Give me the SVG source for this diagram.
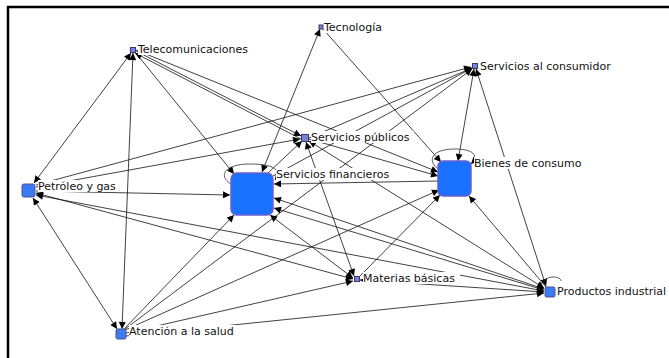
<svg xmlns="http://www.w3.org/2000/svg" width="669" height="358" viewBox="0 0 669 358">
<style>
.e{fill:none;stroke:#111;stroke-width:0.8}
.lp{fill:none;stroke:#333;stroke-width:0.8}
.t{font-family:"DejaVu Sans",sans-serif;font-size:11px;fill:#111}
.bg{fill:#fff}
.big{fill:#1a70ff;stroke:#6a5fd0;stroke-width:1.5}
.mid{fill:#3c7cf0;stroke:#50509a;stroke-width:1}
.sm{fill:#7a82d8;stroke:#333a70;stroke-width:1}
</style>
<defs>
<marker id="a" viewBox="0 0 10 10" refX="10" refY="5" markerWidth="8" markerHeight="7" markerUnits="userSpaceOnUse" orient="auto-start-reverse">
<path d="M0,0 L10,5 L0,10 z" fill="#000"/>
</marker>
</defs>
<rect x="0" y="0" width="669" height="358" fill="#fff"/>
<path d="M8,358 V7 H669" fill="none" stroke="#000" stroke-width="2.5"/>
<g id="connectors">
<line class="e" x1="34" y1="183" x2="131" y2="53" marker-start="url(#a)" marker-end="url(#a)"/>
<line class="e" x1="33" y1="198" x2="117" y2="329" marker-start="url(#a)" marker-end="url(#a)"/>
<line class="e" x1="36" y1="191" x2="230" y2="195" marker-end="url(#a)"/>
<line class="e" x1="36" y1="187" x2="300" y2="139" marker-end="url(#a)"/>
<line class="e" x1="36" y1="185" x2="471" y2="67" marker-end="url(#a)"/>
<line class="e" x1="353" y1="279" x2="36" y2="193" marker-start="url(#a)" marker-end="url(#a)"/>
<line class="e" x1="544" y1="291" x2="36" y2="195" marker-start="url(#a)" marker-end="url(#a)"/>
<line class="e" x1="133" y1="53" x2="122" y2="329" marker-start="url(#a)" marker-end="url(#a)"/>
<line class="e" x1="135" y1="52" x2="234" y2="174" marker-end="url(#a)"/>
<line class="e" x1="136" y1="51" x2="301" y2="136" marker-end="url(#a)"/>
<line class="e" x1="135" y1="53" x2="301" y2="139" marker-start="url(#a)"/>
<line class="e" x1="136" y1="50" x2="438" y2="172" marker-end="url(#a)"/>
<line class="e" x1="320" y1="29" x2="262" y2="172" marker-start="url(#a)" marker-end="url(#a)"/>
<line class="e" x1="323" y1="29" x2="441" y2="162" marker-end="url(#a)"/>
<line class="e" x1="474" y1="69" x2="458" y2="161" marker-start="url(#a)" marker-end="url(#a)"/>
<line class="e" x1="476" y1="69" x2="546" y2="286" marker-start="url(#a)" marker-end="url(#a)"/>
<line class="e" x1="273" y1="176" x2="472" y2="68" marker-end="url(#a)"/>
<line class="e" x1="309" y1="138" x2="472" y2="68" marker-end="url(#a)"/>
<line class="e" x1="268" y1="173" x2="302" y2="141" marker-end="url(#a)"/>
<line class="e" x1="306" y1="142" x2="354" y2="276" marker-start="url(#a)" marker-end="url(#a)"/>
<line class="e" x1="309" y1="139" x2="438" y2="176" marker-end="url(#a)"/>
<line class="e" x1="438" y1="181" x2="274" y2="184" marker-end="url(#a)"/>
<line class="e" x1="124" y1="329" x2="234" y2="215" marker-end="url(#a)"/>
<line class="e" x1="125" y1="330" x2="439" y2="190" marker-end="url(#a)"/>
<line class="e" x1="125" y1="329" x2="472" y2="69" marker-end="url(#a)"/>
<line class="e" x1="126" y1="333" x2="353" y2="281" marker-end="url(#a)"/>
<line class="e" x1="126" y1="336" x2="544" y2="293" marker-end="url(#a)"/>
<line class="e" x1="270" y1="215" x2="353" y2="278" marker-start="url(#a)" marker-end="url(#a)"/>
<line class="e" x1="360" y1="276" x2="440" y2="195" marker-end="url(#a)"/>
<line class="e" x1="360" y1="280" x2="544" y2="292" marker-start="url(#a)" marker-end="url(#a)"/>
<line class="e" x1="544" y1="289" x2="274" y2="198" marker-start="url(#a)" marker-end="url(#a)"/>
<line class="e" x1="544" y1="290" x2="274" y2="208" marker-end="url(#a)"/>
<line class="e" x1="546" y1="287" x2="469" y2="196" marker-end="url(#a)"/>
<line class="e" x1="544" y1="288" x2="309" y2="141" marker-start="url(#a)" marker-end="url(#a)"/>
<path class="lp" d="M231,184 C218,176 224,164 250,164 C274,164 282,170 275,180" marker-end="url(#a)"/>
<path class="lp" d="M439,170 C426,160 432,149 455,149 C474,149 479,156 471,164" marker-end="url(#a)"/>
<path class="lp" d="M541,285 C543,279 549,277 554,277 C558,277 561,279 561,281"/>
</g>
<g id="n-tel"><rect class="sm" x="130.5" y="47.5" width="5" height="5"/><rect class="bg" x="138" y="43" width="113" height="12"/><text class="t" x="138" y="53">Telecomunicaciones</text></g>
<g id="n-tec"><rect class="sm" x="319" y="25" width="4" height="4"/><rect class="bg" x="324" y="21" width="60" height="12"/><text class="t" x="324" y="31">Tecnología</text></g>
<g id="n-sac"><rect class="sm" x="472.5" y="63.5" width="5" height="5"/><rect class="bg" x="480" y="60" width="136" height="12"/><text class="t" x="480" y="70">Servicios al consumidor</text></g>
<g id="n-sp"><rect class="sm" x="301.5" y="134.5" width="7" height="7"/><rect class="bg" x="311" y="131" width="103" height="12"/><text class="t" x="311" y="141">Servicios públicos</text></g>
<g id="n-sf"><rect class="big" x="231" y="173" width="42" height="42" rx="6"/><rect class="bg" x="276" y="168" width="117" height="12"/><text class="t" x="276" y="178">Servicios financieros</text></g>
<g id="n-bc"><rect class="big" x="438" y="161" width="33" height="35" rx="5"/><rect class="bg" x="474" y="157" width="112" height="12"/><text class="t" x="474" y="167">Bienes de consumo</text></g>
<g id="n-pg"><rect class="mid" x="22" y="184" width="13" height="13" rx="2"/><rect class="bg" x="38" y="180" width="80" height="12"/><text class="t" x="38" y="190">Petróleo y gas</text></g>
<g id="n-as"><rect class="mid" x="116" y="329" width="10" height="10" rx="1.5"/><rect class="bg" x="129" y="325" width="108" height="12"/><text class="t" x="129" y="335">Atención a la salud</text></g>
<g id="n-mb"><rect class="sm" x="354.5" y="276.5" width="5" height="5"/><rect class="bg" x="363" y="272" width="97" height="12"/><text class="t" x="363" y="282">Materias básicas</text></g>
<g id="n-pi"><rect class="mid" x="545" y="287" width="10" height="10" rx="1.5"/><rect class="bg" x="557" y="285" width="112" height="12"/><text class="t" x="557" y="295">Productos industrial</text></g>
</svg>
